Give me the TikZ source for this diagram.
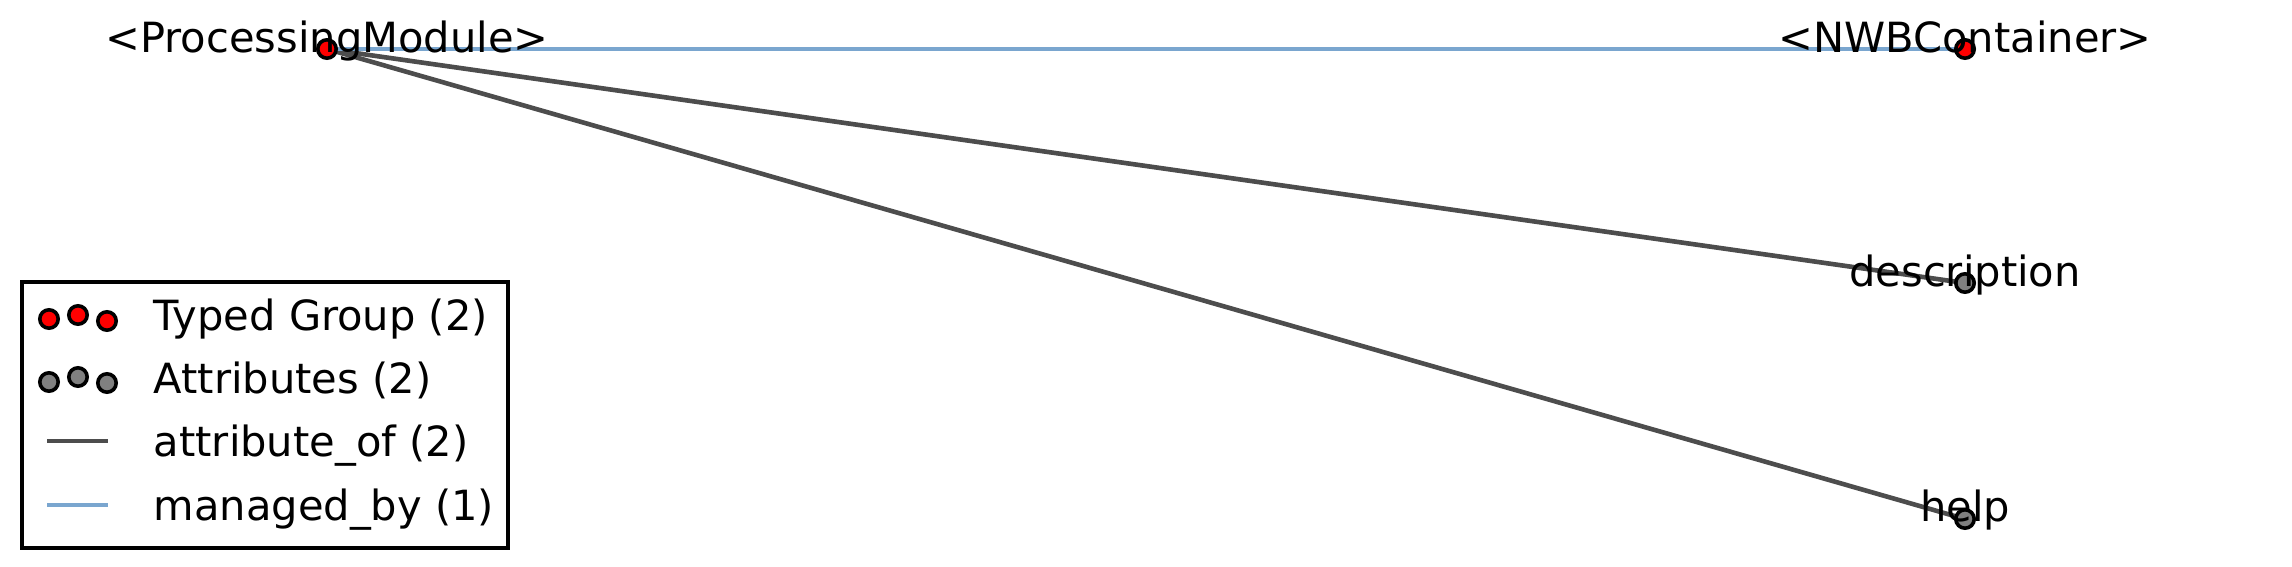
\documentclass[tikz,border=0pt]{standalone}
\usepackage{fontspec}
\setmainfont{DejaVu Sans}
\definecolor{edgegray}{HTML}{4D4D4D}
\definecolor{edgeblue}{HTML}{7AA6CF}
\definecolor{grpred}{HTML}{FF0000}
\definecolor{attgray}{HTML}{808080}
\begin{document}
\begin{tikzpicture}[x=0.25pt,y=-0.25pt,
  dot/.style={circle,draw=black,line width=0.9pt,minimum size=4.6pt,inner sep=0pt},
  tgroup/.style={dot,fill=grpred},
  attr/.style={dot,fill=attgray},
  lbl/.style={font=\fontsize{10.4pt}{12pt}\selectfont,inner sep=0pt,anchor=base},
  legtxt/.style={font=\fontsize{10.4pt}{12pt}\selectfont,inner sep=0pt,anchor=base west},
  attrof/.style={draw=edgegray,line width=1.15pt},
  managed/.style={draw=edgeblue,line width=1.15pt},
  legbox/.style={draw=black,line width=0.9pt,fill=white}]
\useasboundingbox (0,0) rectangle (2292,567);
% nodes
\coordinate (pmc) at (327,49);
\coordinate (nwbc) at (1965,49);
\coordinate (descc) at (1965,283);
\coordinate (helpc) at (1965,519);
% edges
\draw[attrof] (pmc) -- (descc);
\draw[attrof] (pmc) -- (helpc);
\draw[managed] (pmc) -- (nwbc);
\node[tgroup] (pm) at (pmc) {};
\node[tgroup] (nwb) at (nwbc) {};
\node[attr] (desc) at (descc) {};
\node[attr] (help) at (helpc) {};
% labels
\node[lbl] (pml) at (327,52) {<ProcessingModule>};
\node[lbl] (nwbl) at (1965,52) {<NWBContainer>};
\node[lbl] (descl) at (1965,286) {description};
\node[lbl] (helpl) at (1965,521) {help};
% legend
\node[legbox,minimum width=486*0.25pt,minimum height=266*0.25pt,anchor=north west,inner sep=0pt] (leg) at (20,280) {};
\node[tgroup] (l1a) at (49,319) {};
\node[tgroup] (l1b) at (78,315) {};
\node[tgroup] (l1c) at (107,321) {};
\node[attr] (l2a) at (49,382) {};
\node[attr] (l2b) at (78,377) {};
\node[attr] (l2c) at (107,383) {};
\coordinate (l3a) at (47,441);
\coordinate (l3b) at (108,441);
\coordinate (l4a) at (47,505);
\coordinate (l4b) at (108,505);
\draw[attrof] (l3a) -- (l3b);
\draw[managed] (l4a) -- (l4b);
\node[legtxt] (t1) at (153,330) {Typed Group (2)};
\node[legtxt] (t2) at (153,393) {Attributes (2)};
\node[legtxt] (t3) at (153,456) {attribute\_of (2)};
\node[legtxt] (t4) at (153,520) {managed\_by (1)};
\end{tikzpicture}
\end{document}
